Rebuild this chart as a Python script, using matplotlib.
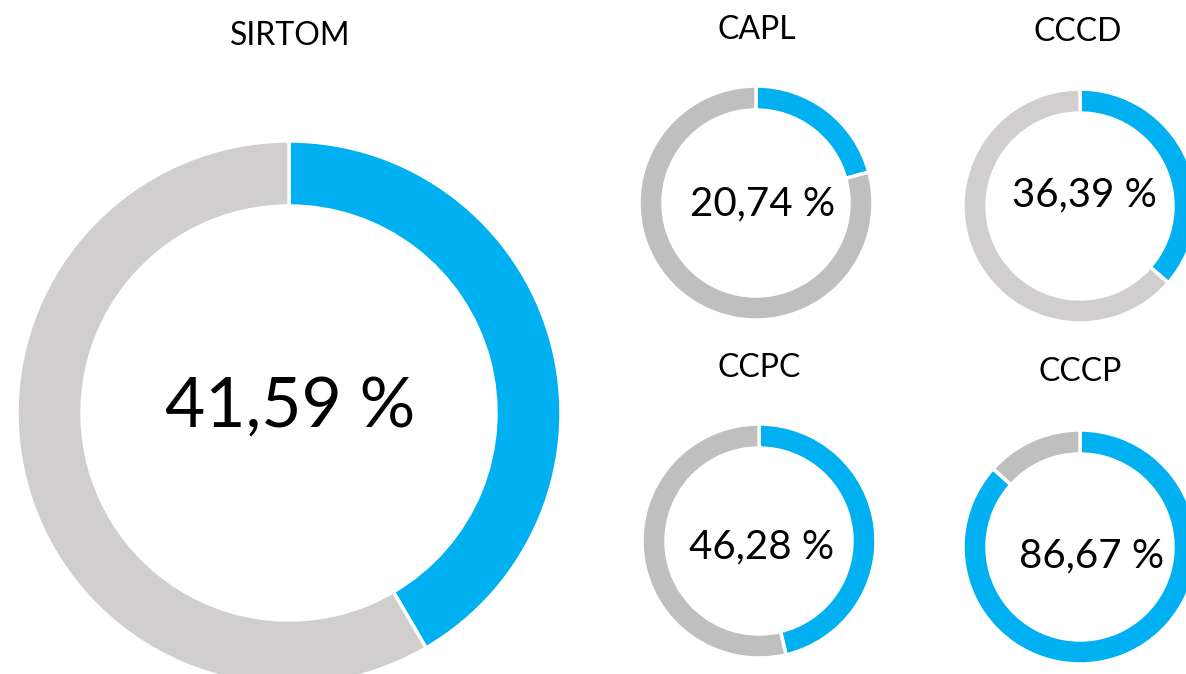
import numpy as np
import matplotlib
matplotlib.use('Agg')
import matplotlib.pyplot as plt

plt.rcParams['font.family'] = ['Lato', 'DejaVu Sans']

# data
names = ['SIRTOM', 'CAPL', 'CCCD', 'CCPC', 'CCCP']
pcts = [41.59, 20.74, 36.39, 46.28, 86.67]
greys = ['#D0CECE', '#BFBFBF', '#D0CECE', '#BFBFBF', '#BFBFBF']
blue = '#00B0F0'

# layout in pixels (top-left origin): centre x, centre y, outer r, ring width
layout = [
    (289, 413, 272, 65),
    (756, 203, 117, 24),
    (1080, 206, 117, 24),
    (759, 541, 117, 24),
    (1080, 547, 117, 24),
]
title_pos = [(290, 36), (757, 30), (1078, 32), (759, 368), (1080, 372)]
value_pos = [(290, 427), (763, 215), (1084, 206), (762, 558), (1092, 567)]
value_size = [50, 29, 29, 29, 29]

W, H = 1186, 674
fig = plt.figure(figsize=(W / 100, H / 100), dpi=100)
ax = fig.add_axes([0, 0, 1, 1])

for i, name in enumerate(names):
    cx, cy, r, w = layout[i]
    ax.pie([pcts[i], 100 - pcts[i]], colors=[blue, greys[i]],
           startangle=90, counterclock=False,
           center=(cx, H - cy), radius=r,
           wedgeprops=dict(width=w, edgecolor='white', linewidth=2.5))
    tx, ty = title_pos[i]
    ax.text(tx, H - ty, name, ha='center', va='center', fontsize=23, color='#000000')
    vx, vy = value_pos[i]
    label = f"{pcts[i]:.2f}".replace('.', ',') + ' %'
    ax.text(vx, H - vy, label, ha='center', va='baseline',
            fontsize=value_size[i], color='#000000')

ax.set_xlim(0, W)
ax.set_ylim(0, H)
ax.set_aspect('equal')
ax.axis('off')

fig.savefig('out.png', dpi=100, facecolor='white')
